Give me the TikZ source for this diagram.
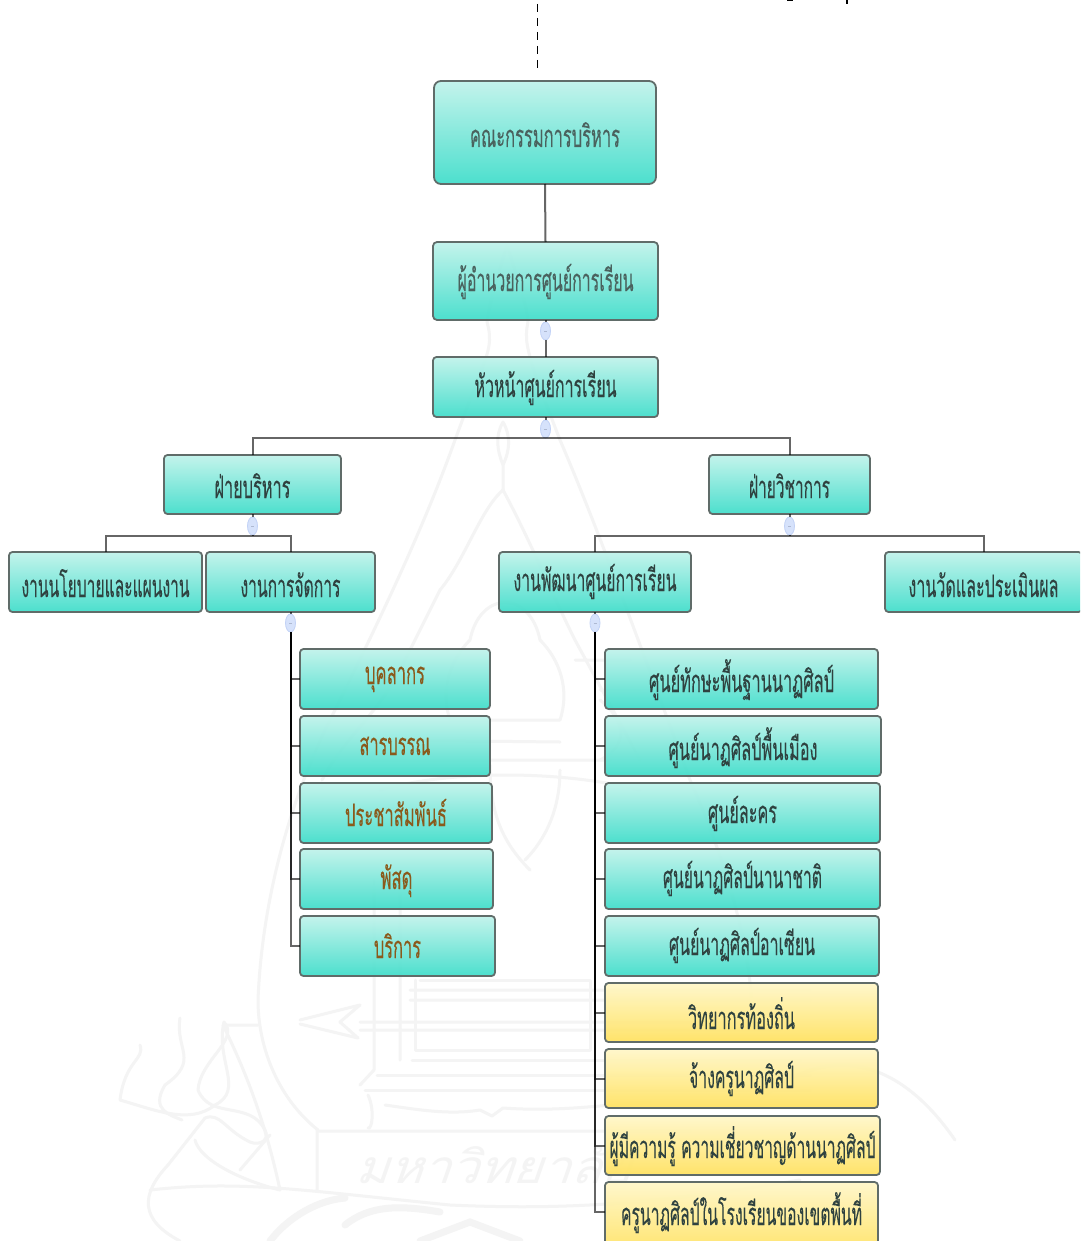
\documentclass[tikz,border=0pt]{standalone}
\usepackage{fontspec}
\usepackage{graphicx}
\usetikzlibrary{shapes.geometric}
\newfontfamily\thaifont[Script=Thai,FakeBold=0.25]{Loma}
\newfontfamily\thaiwm[Script=Thai]{Loma}
\newlength\twd
\newcommand\txt[3]{\settowidth\twd{\thaifont #3}\pgfmathsetmacro\sx{#1/\the\twd}\raisebox{-#2pt}[0pt][0pt]{\scalebox{\sx}[1]{\thaifont #3}}}
\newcommand\bx[9]{%
  \pgfmathsetmacro\cxx{(#2+#4)/2}\pgfmathsetmacro\cyy{(#3+#5)/2}%
  \pgfmathsetmacro\www{#4-#2}\pgfmathsetmacro\hhh{#5-#3}\pgfmathsetmacro\off{#8-(#3+#5)/2}%
  \node[#6,minimum width=\www pt,minimum height=\hhh pt] (#1) at (\cxx,\cyy) {\txt{#7}{\off}{#9}};}
\definecolor{tealtop}{HTML}{C0F3EB}
\definecolor{tealbot}{HTML}{3FDDCA}
\definecolor{yeltop}{HTML}{FFF7C8}
\definecolor{yelbot}{HTML}{FFE25F}
\definecolor{edge}{HTML}{606C69}
\definecolor{inkg}{HTML}{4A625E}
\definecolor{inkd}{HTML}{2F4240}
\definecolor{inkb}{HTML}{8A5A1C}
\definecolor{wmc}{HTML}{F4F4F4}
\definecolor{mk}{HTML}{D6E2FB}
\definecolor{mkd}{HTML}{C2D2F6}
\tikzset{
  box/.style={rectangle,rounded corners=3.5pt,draw=edge,line width=1.8pt,inner sep=0pt,outer sep=0pt,font=\fontsize{31}{31}\selectfont},
  teal/.style={box,top color=tealtop,bottom color=tealbot,fill opacity=.93,text opacity=1,text=inkd},
  tealg/.style={teal,text=inkg},
  tealb/.style={teal,text=inkb},
  yel/.style={box,top color=yeltop,bottom color=yelbot,fill opacity=.93,text opacity=1,text=inkd},
  knob/.style={ellipse,draw=mkd,fill=mk,line width=.8pt,minimum width=10pt,minimum height=18pt,inner sep=0pt,outer sep=0pt},
  link/.style={draw=black,draw opacity=.6,line width=2pt},
  wm/.style={draw=wmc,line width=3pt,line join=round,line cap=round},
}
\newcommand\knobat[2]{\node[knob] (#1) at (#2) {\textcolor{mkd!70!gray}{\rule{3pt}{.8pt}}};}
\begin{document}
\begin{tikzpicture}[x=1pt,y=-1pt]
\clip (0,0) rectangle (1080,1241);
\fill[white] (0,0) rectangle (1080,1241);
% watermark
\draw[wm] (507,245) .. controls (498,275) and (490,300) .. (487,322) .. controls (492,340) and (490,350) .. (478,378) -- (455,440) .. controls (430,510) and (395,590) .. (330,720) .. controls (290,800) and (262,900) .. (258,1000) .. controls (258,1050) and (280,1100) .. (318,1130);
\draw[wm] (507,245) .. controls (516,275) and (526,300) .. (528,322) .. controls (524,340) and (528,350) .. (536,378) -- (560,440) .. controls (590,510) and (620,590) .. (690,780) .. controls (730,870) and (750,950) .. (752,1010);
\draw[wm] (503,422) .. controls (495,436) and (497,450) .. (503,465) .. controls (510,450) and (511,436) .. (503,422) (503,465) -- (503,490);
\draw[wm] (503,490) .. controls (480,510) and (465,560) .. (440,590) -- (395,680) .. controls (370,720) and (340,745) .. (322,780);
\draw[wm] (503,490) .. controls (530,540) and (550,590) .. (575,640) -- (640,760);
\draw[wm] (470,640) .. controls (480,590) and (530,590) .. (540,640) .. controls (560,660) and (570,690) .. (560,720) -- (450,720) .. controls (440,690) and (450,660) .. (470,640);
\draw[wm] (372,740) -- (560,742) (372,760) -- (610,760) (380,790) .. controls (450,770) and (560,770) .. (640,790);
\draw[wm] (490,765) .. controls (490,810) and (500,840) .. (530,870) (560,770) .. controls (560,810) and (545,840) .. (525,860);
\draw[wm] (575,660) -- (630,660) (600,690) -- (640,690) (600,700) .. controls (625,720) and (630,745) .. (600,760);
\draw[wm] (374,880) -- (374,1070) (400,880) -- (400,1060) (374,1070) -- (360,1085) (410,990) -- (810,990) (410,1000) -- (810,1000);
\draw[wm] (300,1020) -- (360,1005) -- (340,1022) -- (358,1038) -- (300,1024) (360,1022) -- (780,1022) (360,1030) -- (780,1030);
\draw[wm] (420,980) -- (590,980) -- (590,1050) -- (415,1050) -- (415,980) (412,1060) -- (800,1060) (377,1075) -- (810,1075) (365,1090) -- (810,1090);
\draw[wm] (368,1095) .. controls (375,1110) and (372,1130) .. (368,1128) (385,1105) .. controls (420,1110) and (450,1115) .. (480,1110) -- (492,1116) -- (503,1108) .. controls (560,1112) and (600,1105) .. (650,1102);
\draw[wm] (317,1130) -- (317,1190) (317,1131) -- (690,1131) (150,1190) .. controls (240,1180) and (300,1190) .. (450,1205) .. controls (560,1210) and (650,1205) .. (800,1180);
\draw[wm] (224,1022) .. controls (215,1060) and (245,1090) .. (215,1105) .. controls (190,1125) and (155,1110) .. (120,1100) .. controls (125,1060) and (145,1060) .. (140,1045);
\draw[wm] (180,1018) .. controls (175,1050) and (200,1060) .. (165,1085) .. controls (150,1110) and (170,1115) .. (182,1120);
\draw[wm] (224,1022) .. controls (240,1040) and (200,1060) .. (198,1090) .. controls (210,1120) and (250,1100) .. (265,1130) .. controls (270,1140) and (260,1146) .. (250,1142) .. controls (225,1130) and (220,1112) .. (205,1118) -- (168,1165) .. controls (140,1195) and (140,1220) .. (180,1241);
\draw[wm] (195,1140) .. controls (200,1160) and (240,1180) .. (280,1190);
\draw[wm] (240,1170) -- (270,1135) (225,1025) -- (258,1025);
\draw[wm] (223,1025) .. controls (245,1070) and (265,1120) .. (280,1190);
\draw[wm] (760,1100) .. controls (830,1040) and (900,1060) .. (955,1140);
\node[text=wmc,font=\fontsize{46}{46}\selectfont\thaiwm,xslant=.35,inner sep=0pt] (wmtext) at (500,1165) {\scalebox{1.1}[1]{มหาวิทยาลัย}};
\draw[wmc,line width=7pt,line cap=round] (270,1241) .. controls (290,1215) and (320,1200) .. (345,1198) (345,1225) .. controls (370,1205) and (400,1205) .. (440,1212) (420,1241) -- (470,1222) -- (520,1241);

% boxes
\bx{a}{434}{81}{656}{184}{tealg,rounded corners=7pt}{150}{147}{คณะกรรมการบริหาร}
\bx{b}{433}{242}{658}{320}{tealg,rounded corners=4pt}{176}{291}{ผู้อำนวยการศูนย์การเรียน}
\bx{c}{433}{357}{658}{417}{teal}{142}{397}{หัวหน้าศูนย์การเรียน}
\bx{d}{164}{455}{341}{514}{teal}{76}{498}{ฝ่ายบริหาร}
\bx{e}{709}{455}{870}{514}{teal}{81}{498}{ฝ่ายวิชาการ}
\bx{f}{9}{552}{202}{612}{teal}{168}{597}{งานนโยบายและแผนงาน}
\bx{g}{206}{552}{375}{612}{teal}{100}{597}{งานการจัดการ}
\bx{h}{499}{552}{691}{612}{teal}{163}{591}{งานพัฒนาศูนย์การเรียน}
\bx{i}{885}{552}{1082}{612}{teal}{150}{597}{งานวัดและประเมินผล}
\bx{la}{300}{649}{490}{709}{tealb}{60}{684}{บุคลากร}
\bx{lb}{300}{716}{490}{776}{tealb}{71}{755}{สารบรรณ}
\bx{lc}{300}{783}{492}{843}{tealb}{102}{826}{ประชาสัมพันธ์}
\bx{ld}{300}{849}{493}{909}{tealb}{32}{889}{พัสดุ}
\bx{le}{300}{916}{495}{976}{tealb}{47}{958}{บริการ}
\bx{ra}{605}{649}{878}{709}{teal}{185}{692}{ศูนย์ทักษะพื้นฐานนาฏศิลป์}
\bx{rb}{605}{716}{881}{776}{teal}{149}{760}{ศูนย์นาฏศิลป์พื้นเมือง}
\bx{rc}{605}{783}{880}{843}{teal}{69}{823}{ศูนย์ละคร}
\bx{rd}{605}{849}{880}{909}{teal}{159}{888}{ศูนย์นาฏศิลป์นานาชาติ}
\bx{re}{605}{916}{879}{976}{teal}{146}{955}{ศูนย์นาฏศิลป์อาเซียน}
\bx{rf}{605}{983}{878}{1042}{yel}{107}{1029}{วิทยากรท้องถิ่น}
\bx{rg}{605}{1049}{878}{1108}{yel}{105}{1088}{จ้างครูนาฏศิลป์}
\bx{rh}{605}{1116}{880}{1175}{yel}{266}{1158}{ผู้มีความรู้ ความเชี่ยวชาญด้านนาฏศิลป์}
\bx{ri}{605}{1182}{878}{1255}{yel}{241}{1225}{ครูนาฏศิลป์ในโรงเรียนของเขตพื้นที่}

% knobs and buses
\coordinate (top) at (537.5,4);
\coordinate (topend) at (537.5,70);
\knobat{mb}{545.5,331}
\knobat{mc}{545.5,429}
\knobat{md}{252.5,526}
\knobat{me}{789.5,526}
\knobat{mg}{290.5,623}
\knobat{mh}{595,623}
\coordinate (busc) at (545.5,438);
\coordinate (busd) at (252.5,536);
\coordinate (buse) at (789.5,536);
\coordinate (rientry) at (605,1212);

\draw[black,line width=1.8pt,dash pattern=on 8pt off 6pt] (top) -- (topend);
\draw[link] (a.south) -- (b.north);
\draw[link] (b.south) -- (mb);
\draw[link] (mb) -- (c.north);
\draw[link] (c.south) -- (mc);
\draw[link] (mc) -- (busc);
\draw[link] (d.north) |- (busc);
\draw[link] (e.north) |- (busc);
\draw[link] (d.south) -- (md);
\draw[link] (md) -- (busd);
\draw[link] (f.north) |- (busd);
\draw[link] (g.north) |- (busd);
\draw[link] (e.south) -- (me);
\draw[link] (me) -- (buse);
\draw[link] (h.north) |- (buse);
\draw[link] (i.north) |- (buse);
\draw[link] (g.south) -- (mg);
\draw[link] (h.south) -- (mh);
\foreach \n in {la,lb,lc,ld,le} \draw[link] (\n.west) -| (mg.south);
\foreach \n in {ra,rb,rc,rd,re,rf,rg,rh} \draw[link] (\n.west) -| (mh.south);
\draw[link] (rientry) -| (mh.south);
% clipped fragments at the top edge
\draw[black,line width=2pt] (787,0) -- (793,0) (846.5,0) -- (846.5,4);
\end{tikzpicture}
\end{document}
